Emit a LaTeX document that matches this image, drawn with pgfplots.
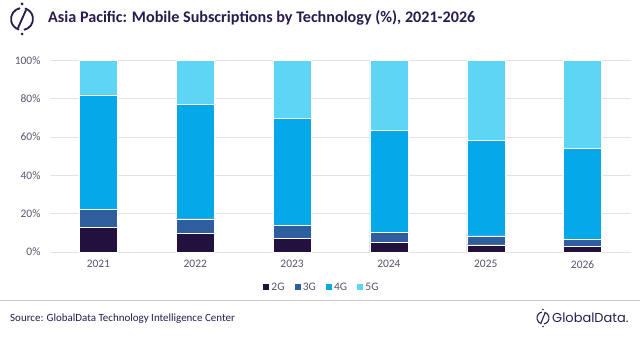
\documentclass[border=0pt]{standalone}
\usepackage{fontspec}
\setmainfont{Carlito}
\newfontfamily\logofont{Poppins}
\usepackage{pgfplots}
\pgfplotsset{compat=1.18}
\definecolor{cTwo}{HTML}{22113F}
\definecolor{cThree}{HTML}{2F5E9F}
\definecolor{cFour}{HTML}{05A9EA}
\definecolor{cFive}{HTML}{5DD6F5}
\definecolor{titlecol}{HTML}{2A1B4E}
\definecolor{tickcol}{HTML}{595470}
\definecolor{gridcol}{HTML}{E3E3E3}
\begin{document}
\begin{tikzpicture}[x=1bp,y=1bp]
\useasboundingbox[fill=white] (0,0) rectangle (640,339);
% top-left logo
\begin{scope}[shift={(22,320)}, line width=1.8bp, draw=titlecol]
  \draw[titlecol] (100:11) arc (100:255:11);
  \draw[titlecol] (-80:11) arc (-80:75:11);
  \draw[titlecol] (4,9) -- (-4,-9);
  \fill[titlecol] (0,15) circle (1.5);
  \fill[titlecol] (0,-15) circle (1.5);
\end{scope}
\node[anchor=west, text=titlecol, font=\fontsize{16.2}{18}\selectfont\bfseries, inner sep=0] at (48,321) {Asia Pacific: Mobile Subscriptions by Technology (\%), 2021-2026};
\begin{axis}[
  at={(50bp,87bp)}, anchor=south west,
  scale only axis, width=581bp, height=191.6bp,
  ybar stacked, bar width=38bp,
  xmin=-0.5, xmax=5.5, ymin=0, ymax=100,
  xtick={0,1,2,3,4,5},
  xticklabels={2021,2022,2023,2024,2025,2026},
  ytick={0,20,40,60,80,100},
  yticklabel={\pgfmathprintnumber{\tick}\%},
  /pgf/number format/assume math mode=true,
  axis line style={draw=none},
  major tick length=0pt,
  ymajorgrids, grid style={gridcol, line width=0.8bp},
  tick label style={font=\fontsize{11.5}{13}\selectfont, text=tickcol},
  xticklabel style={yshift=-5bp},
  yticklabel style={xshift=-6bp},
  legend style={at={(0.467,-0.183)}, anchor=center, draw=none, fill=none,
    legend columns=4, font=\fontsize{11.5}{13}\selectfont\color{tickcol},
    /tikz/every even column/.append style={column sep=7bp}},
  legend image code/.code={\fill[#1] (0bp,-3.5bp) rectangle (7bp,3.5bp);},
  every axis plot/.append style={draw=white, line width=0.3bp},
]
\addplot[fill=cTwo] coordinates {(0,12.8) (1,9.7) (2,7.3) (3,5.2) (4,3.8) (5,2.8)};
\addplot[fill=cThree] coordinates {(0,9.4) (1,7.7) (2,6.6) (3,5.2) (4,4.7) (5,3.8)};
\addplot[fill=cFour] coordinates {(0,59.9) (1,59.8) (2,55.8) (3,53.1) (4,49.7) (5,47.5)};
\addplot[fill=cFive] coordinates {(0,17.9) (1,22.8) (2,30.3) (3,36.5) (4,41.8) (5,45.9)};
\legend{2G,3G,4G,5G}
\end{axis}
% separator
\draw[gridcol!90!black, line width=1.5bp] (0,38.5) -- (640,38.5);
\node[anchor=west, text=titlecol, font=\fontsize{11}{12}\selectfont, inner sep=0] at (10,20) {Source: GlobalData Technology Intelligence Center};
% bottom-right logo
\begin{scope}[shift={(543,21)}, line width=1.1bp]
  \draw[titlecol] (100:6) arc (100:255:6);
  \draw[titlecol] (-80:6) arc (-80:75:6);
  \draw[titlecol] (2,5) -- (-2,-5);
  \fill[titlecol] (0,8.5) circle (0.9);
  \fill[titlecol] (0,-8.5) circle (0.9);
\end{scope}
\node[anchor=west, text=titlecol, font=\logofont\fontsize{13}{14}\selectfont, inner sep=0] at (552,21) {GlobalData.};
\end{tikzpicture}
\end{document}
